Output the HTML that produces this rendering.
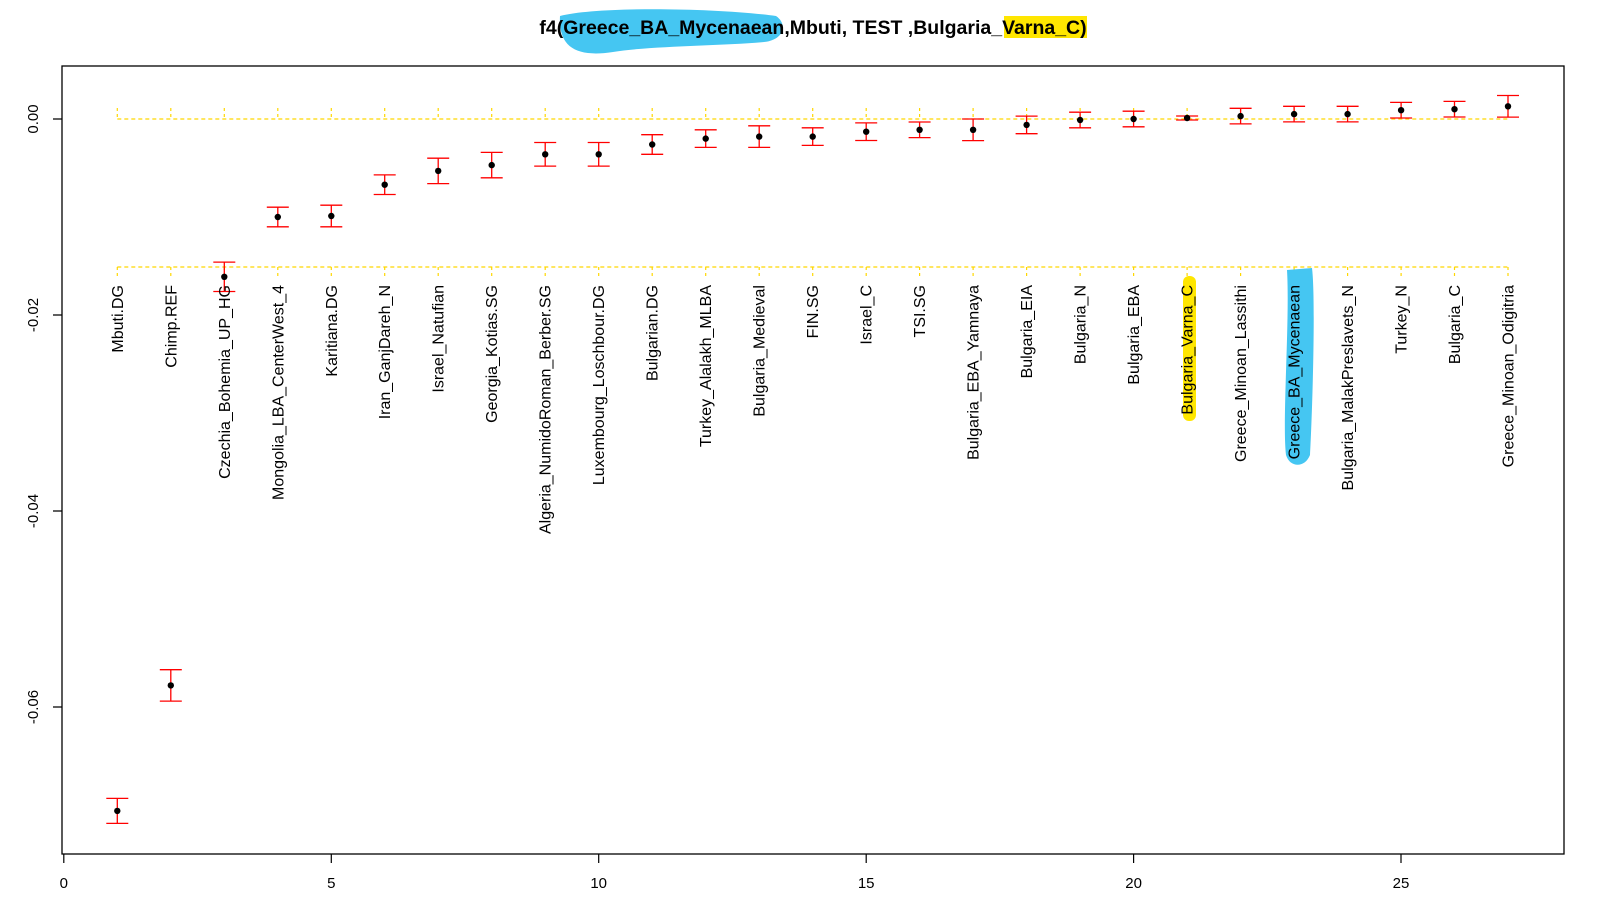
<!DOCTYPE html>
<html><head><meta charset="utf-8"><style>
html,body{margin:0;padding:0;background:#fff;}
svg{display:block;font-family:"Liberation Sans",Arial,sans-serif;}
</style></head><body>
<svg width="1605" height="915" viewBox="0 0 1605 915" xmlns="http://www.w3.org/2000/svg">
<rect width="1605" height="915" fill="#fff"/>
<g transform="translate(-12,0)">
<path d="M572,16 C610,6 730,8 788,16 C800,24 796,40 776,42 C730,46 660,46 625,52 C592,57 570,50 572,16 Z" fill="#45c6f2"/>
<rect x="1016" y="16" width="83" height="22" fill="#ffe600"/>
<text x="825" y="34" font-size="19.5" font-weight="bold" text-anchor="middle" fill="#000">f4(Greece_BA_Mycenaean,Mbuti, TEST ,Bulgaria_Varna_C)</text>
</g>
<rect x="62" y="66" width="1502" height="788" fill="none" stroke="#000" stroke-width="1.3"/>
<g stroke="#000" stroke-width="1.2">
<path d="M62,119H53M62,315H53M62,511H53M62,707H53"/>
<path d="M63.8,854V863M331.3,854V863M598.7,854V863M866.2,854V863M1133.6,854V863M1401,854V863"/>
</g>
<g font-size="15" fill="#000" text-anchor="middle">
<text transform="translate(38,119) rotate(-90)">0.00</text>
<text transform="translate(38,315) rotate(-90)">-0.02</text>
<text transform="translate(38,511) rotate(-90)">-0.04</text>
<text transform="translate(38,707) rotate(-90)">-0.06</text>
<text x="63.8" y="888">0</text><text x="331.3" y="888">5</text><text x="598.7" y="888">10</text>
<text x="866.2" y="888">15</text><text x="1133.6" y="888">20</text><text x="1401" y="888">25</text>
</g>
<g stroke="#ffd700" stroke-width="1.2" fill="none">
<path d="M117.3,119H1508M117.3,267H1508" stroke-dasharray="4,3"/>
<path stroke-dasharray="3,3" d="M117.3,108V119M170.8,108V119M224.3,108V119M277.8,108V119M331.3,108V119M384.7,108V119M438.2,108V119M491.7,108V119M545.2,108V119M598.7,108V119M652.2,108V119M705.7,108V119M759.2,108V119M812.7,108V119M866.2,108V119M919.6,108V119M973.1,108V119M1026.6,108V119M1080.1,108V119M1133.6,108V119M1187.1,108V119M1240.6,108V119M1294.1,108V119M1347.6,108V119M1401.1,108V119M1454.5,108V119M1508,108V119
M117.3,267V277M170.8,267V277M224.3,267V277M277.8,267V277M331.3,267V277M384.7,267V277M438.2,267V277M491.7,267V277M545.2,267V277M598.7,267V277M652.2,267V277M705.7,267V277M759.2,267V277M812.7,267V277M866.2,267V277M919.6,267V277M973.1,267V277M1026.6,267V277M1080.1,267V277M1133.6,267V277M1187.1,267V277M1240.6,267V277M1294.1,267V277M1347.6,267V277M1401.1,267V277M1454.5,267V277M1508,267V277"/>
</g>
<g stroke="#f00" stroke-width="1.3" fill="none">
<path d="M117.3,798.4V823.4M106.3,798.4h22M106.3,823.4h22"/>
<path d="M170.8,669.7V701.1M159.8,669.7h22M159.8,701.1h22"/>
<path d="M224.3,262.1V291.5M213.3,262.1h22M213.3,291.5h22"/>
<path d="M277.8,207.2V226.8M266.8,207.2h22M266.8,226.8h22"/>
<path d="M331.3,205.2V226.8M320.3,205.2h22M320.3,226.8h22"/>
<path d="M384.7,174.9V194.5M373.7,174.9h22M373.7,194.5h22"/>
<path d="M438.2,158.2V183.6M427.2,158.2h22M427.2,183.6h22"/>
<path d="M491.7,152.4V177.8M480.7,152.4h22M480.7,177.8h22"/>
<path d="M545.2,142.5V166.1M534.2,142.5h22M534.2,166.1h22"/>
<path d="M598.7,142.5V166.1M587.7,142.5h22M587.7,166.1h22"/>
<path d="M652.2,134.7V154.3M641.2,134.7h22M641.2,154.3h22"/>
<path d="M705.7,129.8V147.4M694.7,129.8h22M694.7,147.4h22"/>
<path d="M759.2,125.8V147.4M748.2,125.8h22M748.2,147.4h22"/>
<path d="M812.7,127.8V145.4M801.7,127.8h22M801.7,145.4h22"/>
<path d="M866.2,122.9V140.5M855.2,122.9h22M855.2,140.5h22"/>
<path d="M919.6,122V137.6M908.6,122h22M908.6,137.6h22"/>
<path d="M973.1,119V140.6M962.1,119h22M962.1,140.6h22"/>
<path d="M1026.6,116.1V133.7M1015.6,116.1h22M1015.6,133.7h22"/>
<path d="M1080.1,112.2V127.8M1069.1,112.2h22M1069.1,127.8h22"/>
<path d="M1133.6,111.2V126.8M1122.6,111.2h22M1122.6,126.8h22"/>
<path d="M1187.1,116V120M1176.1,116h22M1176.1,120h22"/>
<path d="M1240.6,108.3V123.9M1229.6,108.3h22M1229.6,123.9h22"/>
<path d="M1294.1,106.3V121.9M1283.1,106.3h22M1283.1,121.9h22"/>
<path d="M1347.6,106.3V121.9M1336.6,106.3h22M1336.6,121.9h22"/>
<path d="M1401.1,102.4V118M1390.1,102.4h22M1390.1,118h22"/>
<path d="M1454.5,101.4V117M1443.5,101.4h22M1443.5,117h22"/>
<path d="M1508,95.5V117.1M1497,95.5h22M1497,117.1h22"/>
</g>
<g fill="#000">
<circle cx="117.3" cy="810.9" r="3.2"/><circle cx="170.8" cy="685.4" r="3.2"/><circle cx="224.3" cy="276.8" r="3.2"/>
<circle cx="277.8" cy="217" r="3.2"/><circle cx="331.3" cy="216" r="3.2"/><circle cx="384.7" cy="184.7" r="3.2"/>
<circle cx="438.2" cy="170.9" r="3.2"/><circle cx="491.7" cy="165.1" r="3.2"/><circle cx="545.2" cy="154.3" r="3.2"/>
<circle cx="598.7" cy="154.3" r="3.2"/><circle cx="652.2" cy="144.5" r="3.2"/><circle cx="705.7" cy="138.6" r="3.2"/>
<circle cx="759.2" cy="136.6" r="3.2"/><circle cx="812.7" cy="136.6" r="3.2"/><circle cx="866.2" cy="131.7" r="3.2"/>
<circle cx="919.6" cy="129.8" r="3.2"/><circle cx="973.1" cy="129.8" r="3.2"/><circle cx="1026.6" cy="124.9" r="3.2"/>
<circle cx="1080.1" cy="120" r="3.2"/><circle cx="1133.6" cy="119" r="3.2"/><circle cx="1187.1" cy="118" r="3.2"/>
<circle cx="1240.6" cy="116.1" r="3.2"/><circle cx="1294.1" cy="114.1" r="3.2"/><circle cx="1347.6" cy="114.1" r="3.2"/>
<circle cx="1401.1" cy="110.2" r="3.2"/><circle cx="1454.5" cy="109.2" r="3.2"/><circle cx="1508" cy="106.3" r="3.2"/>
</g>
<rect x="1183" y="276" width="13" height="145" rx="6" fill="#ffe600"/>
<path d="M1287,270 L1312,268 C1316,300 1312,420 1310,455 C1305,468 1290,468 1286,455 C1282,420 1290,320 1287,270 Z" fill="#45c6f2"/>
<g font-size="16" fill="#000" text-anchor="end">
<text transform="translate(122.8,285) rotate(-90)">Mbuti.DG</text>
<text transform="translate(176.3,285) rotate(-90)">Chimp.REF</text>
<text transform="translate(229.8,285) rotate(-90)">Czechia_Bohemia_UP_HG</text>
<text transform="translate(283.3,285) rotate(-90)">Mongolia_LBA_CenterWest_4</text>
<text transform="translate(336.8,285) rotate(-90)">Karitiana.DG</text>
<text transform="translate(390.2,285) rotate(-90)">Iran_GanjDareh_N</text>
<text transform="translate(443.7,285) rotate(-90)">Israel_Natufian</text>
<text transform="translate(497.2,285) rotate(-90)">Georgia_Kotias.SG</text>
<text transform="translate(550.7,285) rotate(-90)">Algeria_NumidoRoman_Berber.SG</text>
<text transform="translate(604.2,285) rotate(-90)">Luxembourg_Loschbour.DG</text>
<text transform="translate(657.7,285) rotate(-90)">Bulgarian.DG</text>
<text transform="translate(711.2,285) rotate(-90)">Turkey_Alalakh_MLBA</text>
<text transform="translate(764.7,285) rotate(-90)">Bulgaria_Medieval</text>
<text transform="translate(818.2,285) rotate(-90)">FIN.SG</text>
<text transform="translate(871.7,285) rotate(-90)">Israel_C</text>
<text transform="translate(925.1,285) rotate(-90)">TSI.SG</text>
<text transform="translate(978.6,285) rotate(-90)">Bulgaria_EBA_Yamnaya</text>
<text transform="translate(1032.1,285) rotate(-90)">Bulgaria_EIA</text>
<text transform="translate(1085.6,285) rotate(-90)">Bulgaria_N</text>
<text transform="translate(1139.1,285) rotate(-90)">Bulgaria_EBA</text>
<text transform="translate(1192.6,285) rotate(-90)">Bulgaria_Varna_C</text>
<text transform="translate(1246.1,285) rotate(-90)">Greece_Minoan_Lassithi</text>
<text transform="translate(1299.6,285) rotate(-90)">Greece_BA_Mycenaean</text>
<text transform="translate(1353.1,285) rotate(-90)">Bulgaria_MalakPreslavets_N</text>
<text transform="translate(1406.6,285) rotate(-90)">Turkey_N</text>
<text transform="translate(1460,285) rotate(-90)">Bulgaria_C</text>
<text transform="translate(1513.5,285) rotate(-90)">Greece_Minoan_Odigitria</text>
</g>
</svg>
</body></html>
